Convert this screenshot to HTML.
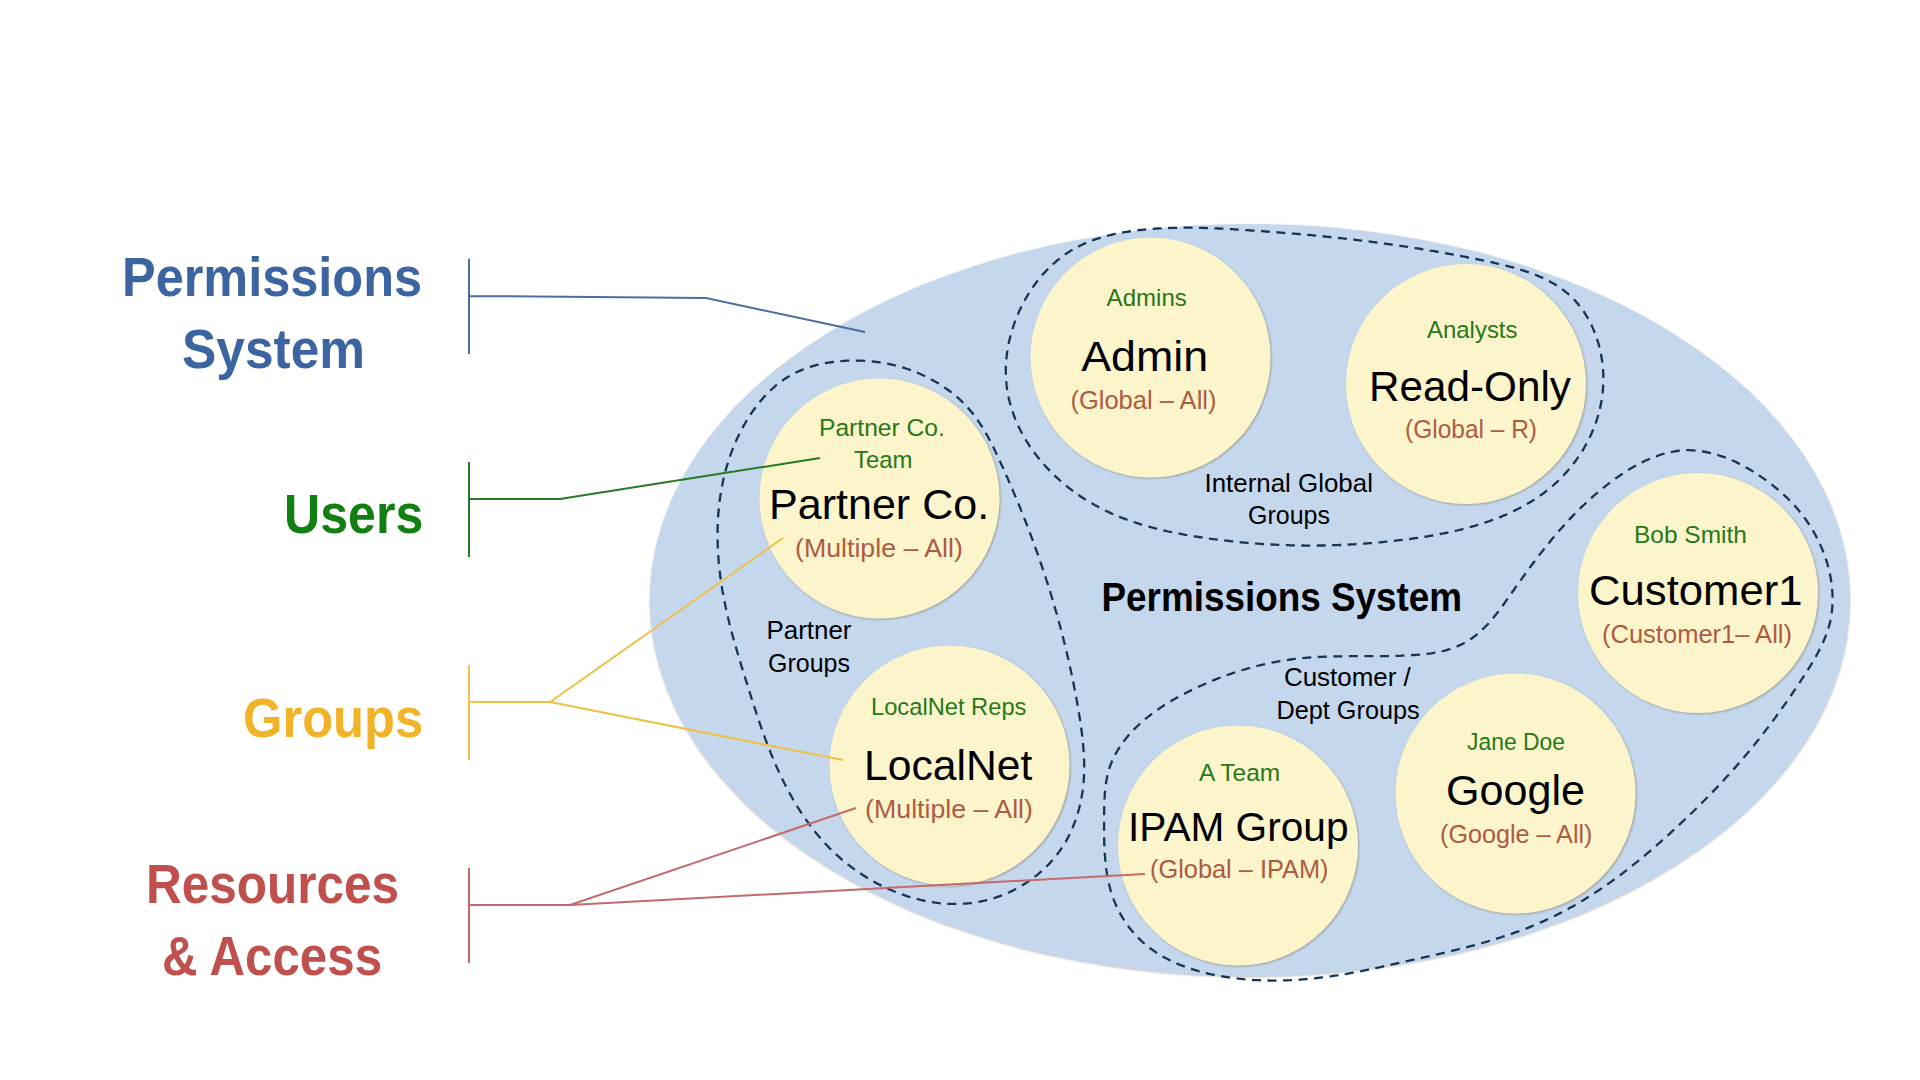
<!DOCTYPE html>
<html><head><meta charset="utf-8"><title>Permissions System</title>
<style>html,body{margin:0;padding:0;background:#fff;width:1920px;height:1080px;overflow:hidden}svg{display:block}text{font-family:"Liberation Sans",sans-serif}</style>
</head><body>
<svg width="1920" height="1080" viewBox="0 0 1920 1080">
<defs>
<filter id="sh" x="-10%" y="-10%" width="120%" height="120%"><feGaussianBlur in="SourceAlpha" stdDeviation="0.9"/><feOffset dx="0.6" dy="1.2" result="o"/><feFlood flood-color="#7a7050" flood-opacity="0.55"/><feComposite in2="o" operator="in"/><feMerge><feMergeNode/><feMergeNode in="SourceGraphic"/></feMerge></filter>
<filter id="esh" x="-5%" y="-5%" width="110%" height="110%"><feGaussianBlur in="SourceAlpha" stdDeviation="1"/><feOffset dx="0.3" dy="1.2" result="o"/><feFlood flood-color="#707880" flood-opacity="0.5"/><feComposite in2="o" operator="in"/><feMerge><feMergeNode/><feMergeNode in="SourceGraphic"/></feMerge></filter>
</defs>
<rect width="1920" height="1080" fill="#ffffff"/>
<ellipse cx="1250" cy="600" rx="600" ry="376" fill="#c4d7ec" filter="url(#esh)"/>
<circle cx="1150.5" cy="357.5" r="120" fill="#fcf5cb" filter="url(#sh)"/>
<circle cx="1466" cy="384" r="120" fill="#fcf5cb" filter="url(#sh)"/>
<circle cx="879.5" cy="498.5" r="120" fill="#fcf5cb" filter="url(#sh)"/>
<circle cx="949.5" cy="765.5" r="120" fill="#fcf5cb" filter="url(#sh)"/>
<circle cx="1698" cy="593" r="120" fill="#fcf5cb" filter="url(#sh)"/>
<circle cx="1515.5" cy="793.5" r="120" fill="#fcf5cb" filter="url(#sh)"/>
<circle cx="1238" cy="845.5" r="120" fill="#fcf5cb" filter="url(#sh)"/>
<g fill="none" stroke="#163554" stroke-width="2.3">
<path d="M1245.6,230.1 L1247.5,230.2 L1249.4,230.3 L1251.3,230.5 L1253.2,230.6 L1255.1,230.7 L1257.0,230.8 L1258.9,231.0 L1260.7,231.1 L1262.6,231.2 L1264.5,231.4 L1266.4,231.5 L1268.3,231.6 L1270.2,231.8 L1272.1,231.9 L1273.9,232.1 L1275.8,232.2 L1277.7,232.4 L1279.6,232.5 L1281.4,232.7 L1283.3,232.8 L1285.2,233.0 L1287.1,233.1 L1288.9,233.3 L1290.8,233.4 L1292.7,233.6 L1294.5,233.7 L1296.4,233.9 L1298.3,234.0 L1300.1,234.2 L1302.0,234.4 L1303.9,234.5 L1305.7,234.7 L1307.6,234.9 L1309.4,235.0 L1311.3,235.2 L1313.2,235.4 L1315.0,235.6 L1316.9,235.7 L1318.7,235.9 L1320.6,236.1 L1322.4,236.3 L1324.3,236.5 L1326.2,236.7 L1328.0,236.9 L1329.9,237.0 L1331.7,237.2 L1333.6,237.4 L1335.4,237.6 L1337.3,237.8 L1339.1,238.0 L1341.0,238.2 L1342.8,238.4 L1344.7,238.6 L1346.5,238.8 L1348.4,239.1 L1350.2,239.3 L1352.1,239.5 L1354.0,239.7 L1355.8,239.9 L1357.7,240.1 L1359.5,240.4 L1361.4,240.6 L1363.2,240.8 L1365.1,241.0 L1366.9,241.3 L1368.8,241.5 L1370.6,241.7 L1372.5,242.0 L1374.3,242.2 L1376.2,242.5 L1378.1,242.7 L1379.9,243.0 L1381.8,243.2 L1383.6,243.5 L1385.5,243.7 L1387.3,244.0 L1389.2,244.2 L1391.1,244.5 L1392.9,244.7 L1394.8,245.0 L1396.6,245.3 L1398.5,245.6 L1400.4,245.8 L1402.2,246.1 L1404.1,246.4 L1406.0,246.7 L1407.8,246.9 L1409.7,247.2 L1411.6,247.5 L1413.4,247.8 L1415.3,248.1 L1417.2,248.4 L1419.1,248.7 L1420.9,249.0 L1422.8,249.3 L1424.7,249.6 L1426.6,249.9 L1428.5,250.2 L1430.3,250.6 L1432.2,250.9 L1434.1,251.2 L1436.0,251.5 L1437.9,251.8 L1439.8,252.2 L1441.7,252.5 L1443.5,252.8 L1445.4,253.2 L1447.3,253.5 L1449.2,253.9 L1451.1,254.2 L1453.0,254.6 L1454.9,254.9 L1456.8,255.3 L1458.7,255.6 L1460.6,256.0 L1462.6,256.4 L1464.5,256.7 L1466.4,257.1 L1468.3,257.5 L1470.2,257.8 L1472.1,258.2 L1474.1,258.6 L1476.0,259.0 L1477.9,259.4 L1479.8,259.8 L1481.8,260.2 L1483.7,260.6 L1485.6,261.0 L1487.6,261.4 L1489.5,261.8 L1491.4,262.2 L1493.4,262.6 L1495.3,263.1 L1497.2,263.5 L1499.2,264.0 L1501.1,264.4 L1503.0,264.9 L1504.9,265.3 L1506.8,265.8 L1508.7,266.3 L1510.6,266.8 L1512.5,267.3 L1514.4,267.8 L1516.3,268.4 L1518.2,268.9 L1520.0,269.5 L1521.9,270.1 L1523.8,270.7 L1525.6,271.3 L1527.4,271.9 L1529.2,272.5 L1531.0,273.2 L1532.8,273.8 L1534.6,274.5 L1536.4,275.2 L1538.1,275.9 L1539.8,276.7 L1541.6,277.4 L1543.3,278.2 L1545.0,279.0 L1546.6,279.8 L1548.3,280.7 L1549.9,281.5 L1551.5,282.4 L1553.1,283.3 L1554.7,284.2 L1556.3,285.2 L1557.8,286.2 L1559.3,287.2 L1560.8,288.2 L1562.3,289.3 L1563.7,290.3 L1565.1,291.4 L1566.5,292.6 L1567.9,293.7 L1569.3,294.9 L1570.6,296.1 L1571.9,297.4 L1573.2,298.7 L1574.4,300.0 L1575.6,301.3 L1576.8,302.6 L1578.0,304.0 L1579.1,305.4 L1580.3,306.8 L1581.3,308.3 L1582.4,309.7 L1583.5,311.2 L1584.5,312.7 L1585.5,314.3 L1586.4,315.8 L1587.4,317.4 L1588.3,319.0 L1589.2,320.6 L1590.0,322.2 L1590.8,323.9 L1591.7,325.5 L1592.4,327.2 L1593.2,328.9 L1593.9,330.6 L1594.6,332.3 L1595.3,334.1 L1595.9,335.8 L1596.6,337.6 L1597.1,339.4 L1597.7,341.2 L1598.3,343.0 L1598.8,344.8 L1599.3,346.6 L1599.7,348.4 L1600.1,350.3 L1600.5,352.1 L1600.9,354.0 L1601.3,355.8 L1601.6,357.7 L1601.9,359.6 L1602.2,361.5 L1602.4,363.4 L1602.6,365.3 L1602.8,367.2 L1603.0,369.1 L1603.1,371.0 L1603.2,372.9 L1603.3,374.8 L1603.3,376.7 L1603.3,378.7 L1603.3,380.6 L1603.3,382.5 L1603.2,384.4 L1603.1,386.3 L1603.0,388.2 L1602.9,390.2 L1602.7,392.1 L1602.5,394.0 L1602.2,395.9 L1602.0,397.8 L1601.7,399.7 L1601.4,401.6 L1601.0,403.5 L1600.7,405.4 L1600.2,407.2 L1599.8,409.1 L1599.4,411.0 L1598.9,412.8 L1598.4,414.7 L1597.8,416.5 L1597.3,418.3 L1596.7,420.2 L1596.1,422.0 L1595.4,423.8 L1594.8,425.6 L1594.1,427.4 L1593.4,429.1 L1592.6,430.9 L1591.9,432.7 L1591.1,434.4 L1590.3,436.2 L1589.5,437.9 L1588.6,439.6 L1587.7,441.3 L1586.9,443.0 L1585.9,444.7 L1585.0,446.3 L1584.1,448.0 L1583.1,449.6 L1582.1,451.3 L1581.1,452.9 L1580.0,454.5 L1579.0,456.1 L1577.9,457.6 L1576.8,459.2 L1575.7,460.7 L1574.6,462.2 L1573.4,463.8 L1572.3,465.2 L1571.1,466.7 L1569.9,468.2 L1568.7,469.6 L1567.5,471.1 L1566.2,472.5 L1565.0,473.8 L1563.7,475.2 L1562.4,476.6 L1561.1,477.9 L1559.8,479.2 L1558.4,480.5 L1557.1,481.8 L1555.7,483.1 L1554.3,484.3 L1553.0,485.5 L1551.6,486.7 L1550.1,487.9 L1548.7,489.1 L1547.3,490.3 L1545.8,491.4 L1544.4,492.5 L1542.9,493.6 L1541.4,494.7 L1539.9,495.8 L1538.4,496.8 L1536.8,497.9 L1535.3,498.9 L1533.8,499.9 L1532.2,500.9 L1530.6,501.9 L1529.0,502.8 L1527.4,503.8 L1525.8,504.7 L1524.2,505.6 L1522.6,506.5 L1521.0,507.4 L1519.3,508.2 L1517.7,509.1 L1516.0,509.9 L1514.3,510.8 L1512.7,511.6 L1511.0,512.4 L1509.3,513.1 L1507.6,513.9 L1505.8,514.7 L1504.1,515.4 L1502.4,516.1 L1500.6,516.9 L1498.9,517.6 L1497.1,518.2 L1495.4,518.9 L1493.6,519.6 L1491.8,520.2 L1490.1,520.9 L1488.3,521.5 L1486.5,522.1 L1484.7,522.7 L1482.8,523.3 L1481.0,523.9 L1479.2,524.5 L1477.4,525.0 L1475.5,525.6 L1473.7,526.1 L1471.9,526.6 L1470.0,527.2 L1468.2,527.7 L1466.3,528.2 L1464.4,528.6 L1462.6,529.1 L1460.7,529.6 L1458.8,530.0 L1456.9,530.5 L1455.1,530.9 L1453.2,531.4 L1451.3,531.8 L1449.4,532.2 L1447.5,532.6 L1445.6,533.0 L1443.7,533.4 L1441.8,533.7 L1439.9,534.1 L1438.0,534.5 L1436.1,534.8 L1434.2,535.2 L1432.2,535.5 L1430.3,535.8 L1428.4,536.2 L1426.5,536.5 L1424.6,536.8 L1422.7,537.1 L1420.7,537.4 L1418.8,537.7 L1416.9,537.9 L1415.0,538.2 L1413.1,538.5 L1411.1,538.8 L1409.2,539.0 L1407.3,539.3 L1405.4,539.5 L1403.5,539.7 L1401.5,540.0 L1399.6,540.2 L1397.7,540.4 L1395.8,540.7 L1393.9,540.9 L1392.0,541.1 L1390.1,541.3 L1388.2,541.5 L1386.3,541.7 L1384.3,541.9 L1382.4,542.1 L1380.5,542.3 L1378.6,542.4 L1376.7,542.6 L1374.8,542.8 L1372.9,542.9 L1371.1,543.1 L1369.2,543.2 L1367.3,543.4 L1365.4,543.5 L1363.5,543.7 L1361.6,543.8 L1359.7,543.9 L1357.8,544.1 L1355.9,544.2 L1354.0,544.3 L1352.1,544.4 L1350.3,544.5 L1348.4,544.6 L1346.5,544.7 L1344.6,544.8 L1342.7,544.9 L1340.8,545.0 L1339.0,545.0 L1337.1,545.1 L1335.2,545.2 L1333.3,545.2 L1331.5,545.3 L1329.6,545.3 L1327.7,545.4 L1325.8,545.4 L1323.9,545.5 L1322.1,545.5 L1320.2,545.5 L1318.3,545.5 L1316.4,545.6 L1314.6,545.6 L1312.7,545.6 L1310.8,545.6 L1309.0,545.6 L1307.1,545.6 L1305.2,545.6 L1303.3,545.5 L1301.5,545.5 L1299.6,545.5 L1297.7,545.5 L1295.9,545.4 L1294.0,545.4 L1292.1,545.3 L1290.3,545.3 L1288.4,545.2 L1286.5,545.2 L1284.7,545.1 L1282.8,545.0 L1280.9,545.0 L1279.1,544.9 L1277.2,544.8 L1275.3,544.7 L1273.5,544.6 L1271.6,544.5 L1269.7,544.4 L1267.8,544.3 L1266.0,544.2 L1264.1,544.1 L1262.2,544.0 L1260.4,543.8 L1258.5,543.7 L1256.6,543.6 L1254.8,543.4 L1252.9,543.3 L1251.0,543.1 L1249.2,543.0 L1247.3,542.8 L1245.4,542.6 L1243.5,542.5 L1241.7,542.3 L1239.8,542.1 L1237.9,541.9 L1236.1,541.7 L1234.2,541.5 L1232.3,541.3 L1230.4,541.1 L1228.6,540.9 L1226.7,540.7 L1224.8,540.5 L1222.9,540.3 L1221.0,540.1 L1219.2,539.8 L1217.3,539.6 L1215.4,539.3 L1213.5,539.1 L1211.6,538.8 L1209.8,538.6 L1207.9,538.3 L1206.0,538.1 L1204.1,537.8 L1202.2,537.5 L1200.3,537.2 L1198.5,537.0 L1196.6,536.7 L1194.7,536.4 L1192.8,536.1 L1190.9,535.7 L1189.0,535.4 L1187.2,535.1 L1185.3,534.8 L1183.4,534.4 L1181.5,534.1 L1179.6,533.7 L1177.7,533.4 L1175.9,533.0 L1174.0,532.6 L1172.1,532.2 L1170.2,531.9 L1168.4,531.5 L1166.5,531.0 L1164.6,530.6 L1162.8,530.2 L1160.9,529.8 L1159.1,529.3 L1157.2,528.9 L1155.4,528.4 L1153.5,527.9 L1151.7,527.4 L1149.8,526.9 L1148.0,526.4 L1146.1,525.9 L1144.3,525.4 L1142.5,524.8 L1140.6,524.3 L1138.8,523.7 L1137.0,523.1 L1135.2,522.5 L1133.4,521.9 L1131.6,521.3 L1129.8,520.7 L1128.0,520.1 L1126.2,519.4 L1124.4,518.7 L1122.6,518.1 L1120.9,517.4 L1119.1,516.7 L1117.3,515.9 L1115.6,515.2 L1113.8,514.5 L1112.1,513.7 L1110.4,512.9 L1108.6,512.1 L1106.9,511.3 L1105.2,510.5 L1103.5,509.6 L1101.8,508.8 L1100.1,507.9 L1098.4,507.0 L1096.7,506.1 L1095.0,505.2 L1093.4,504.3 L1091.7,503.3 L1090.1,502.4 L1088.4,501.4 L1086.8,500.4 L1085.2,499.4 L1083.5,498.3 L1081.9,497.3 L1080.3,496.2 L1078.8,495.1 L1077.2,494.0 L1075.6,492.9 L1074.0,491.8 L1072.5,490.6 L1071.0,489.5 L1069.4,488.3 L1067.9,487.1 L1066.4,485.9 L1064.9,484.7 L1063.5,483.5 L1062.0,482.2 L1060.6,481.0 L1059.1,479.7 L1057.7,478.4 L1056.3,477.1 L1054.9,475.8 L1053.5,474.5 L1052.1,473.1 L1050.8,471.8 L1049.4,470.4 L1048.1,469.0 L1046.8,467.6 L1045.5,466.2 L1044.2,464.8 L1043.0,463.4 L1041.7,461.9 L1040.5,460.5 L1039.3,459.0 L1038.1,457.5 L1036.9,456.0 L1035.8,454.5 L1034.6,453.0 L1033.5,451.5 L1032.4,450.0 L1031.3,448.4 L1030.2,446.9 L1029.2,445.3 L1028.2,443.7 L1027.2,442.1 L1026.2,440.6 L1025.2,438.9 L1024.3,437.3 L1023.3,435.7 L1022.4,434.1 L1021.5,432.4 L1020.7,430.8 L1019.8,429.1 L1019.0,427.4 L1018.2,425.7 L1017.4,424.1 L1016.7,422.4 L1016.0,420.7 L1015.2,418.9 L1014.6,417.2 L1013.9,415.5 L1013.3,413.7 L1012.7,412.0 L1012.1,410.2 L1011.5,408.5 L1011.0,406.7 L1010.5,404.9 L1010.0,403.1 L1009.5,401.3 L1009.1,399.5 L1008.7,397.7 L1008.3,395.9 L1007.9,394.1 L1007.6,392.3 L1007.3,390.5 L1007.0,388.6 L1006.8,386.8 L1006.5,384.9 L1006.4,383.1 L1006.2,381.2 L1006.1,379.4 L1006.0,377.5 L1005.9,375.6 L1005.8,373.7 L1005.8,371.9 L1005.8,370.0 L1005.8,368.1 L1005.9,366.2 L1006.0,364.3 L1006.1,362.4 L1006.3,360.5 L1006.4,358.6 L1006.6,356.7 L1006.8,354.8 L1007.1,353.0 L1007.4,351.1 L1007.7,349.2 L1008.0,347.3 L1008.3,345.4 L1008.7,343.5 L1009.1,341.6 L1009.5,339.8 L1010.0,337.9 L1010.4,336.0 L1010.9,334.2 L1011.5,332.3 L1012.0,330.4 L1012.6,328.6 L1013.2,326.8 L1013.8,324.9 L1014.4,323.1 L1015.1,321.3 L1015.8,319.5 L1016.5,317.7 L1017.2,315.9 L1018.0,314.1 L1018.7,312.3 L1019.5,310.5 L1020.4,308.8 L1021.2,307.0 L1022.1,305.3 L1023.0,303.6 L1023.9,301.9 L1024.8,300.2 L1025.7,298.5 L1026.7,296.8 L1027.7,295.2 L1028.7,293.5 L1029.7,291.9 L1030.8,290.3 L1031.9,288.7 L1032.9,287.1 L1034.1,285.5 L1035.2,284.0 L1036.3,282.4 L1037.5,280.9 L1038.7,279.4 L1039.9,277.9 L1041.1,276.5 L1042.3,275.0 L1043.6,273.6 L1044.9,272.2 L1046.2,270.8 L1047.5,269.5 L1048.8,268.1 L1050.2,266.8 L1051.5,265.5 L1052.9,264.2 L1054.3,263.0 L1055.7,261.8 L1057.1,260.5 L1058.6,259.4 L1060.1,258.2 L1061.5,257.1 L1063.0,256.0 L1064.5,254.9 L1066.1,253.8 L1067.6,252.8 L1069.2,251.8 L1070.7,250.8 L1072.3,249.9 L1073.9,248.9 L1075.5,248.0 L1077.2,247.2 L1078.8,246.3 L1080.5,245.5 L1082.1,244.7 L1083.8,243.9 L1085.5,243.2 L1087.2,242.5 L1088.9,241.8 L1090.6,241.1 L1092.4,240.5 L1094.1,239.8 L1095.9,239.2 L1097.6,238.6 L1099.4,238.1 L1101.2,237.5 L1103.0,237.0 L1104.8,236.5 L1106.6,236.0 L1108.4,235.5 L1110.2,235.1 L1112.1,234.6 L1113.9,234.2 L1115.8,233.8 L1117.6,233.4 L1119.5,233.1 L1121.3,232.7 L1123.2,232.4 L1125.1,232.1 L1126.9,231.8 L1128.8,231.5 L1130.7,231.2 L1132.6,230.9 L1134.5,230.7 L1136.4,230.4 L1138.3,230.2 L1140.2,230.0 L1142.1,229.8 L1144.0,229.6 L1145.9,229.4 L1147.8,229.2 L1149.7,229.1 L1151.6,228.9 L1153.5,228.8 L1155.4,228.6 L1157.3,228.5 L1159.2,228.4 L1161.1,228.3 L1163.1,228.2 L1165.0,228.1 L1166.9,228.0 L1168.8,228.0 L1170.7,227.9 L1172.7,227.8 L1174.6,227.8 L1176.5,227.8 L1178.4,227.7 L1180.3,227.7 L1182.3,227.7 L1184.2,227.7 L1186.1,227.7 L1188.0,227.7 L1190.0,227.7 L1191.9,227.7 L1193.8,227.7 L1195.7,227.8 L1197.7,227.8 L1199.6,227.8 L1201.5,227.9 L1203.4,227.9 L1205.4,228.0 L1207.3,228.1 L1209.2,228.1 L1211.1,228.2 L1213.1,228.3 L1215.0,228.4 L1216.9,228.4 L1218.8,228.5 L1220.7,228.6 L1222.7,228.7 L1224.6,228.8 L1226.5,228.9 L1228.4,229.0 L1230.3,229.1 L1232.2,229.2 L1234.1,229.4 L1236.1,229.5 L1238.0,229.6 L1239.9,229.7 L1241.8,229.8 L1243.7,230.0 L1245.6,230.1Z" stroke-dasharray="8.970 6.479"/>
<path d="M856.2,360.6 L858.0,360.6 L859.9,360.7 L861.7,360.7 L863.5,360.8 L865.3,360.9 L867.1,361.0 L868.9,361.2 L870.7,361.3 L872.5,361.5 L874.3,361.7 L876.1,361.9 L877.9,362.1 L879.7,362.4 L881.5,362.7 L883.2,363.0 L885.0,363.3 L886.8,363.6 L888.5,363.9 L890.3,364.3 L892.0,364.7 L893.8,365.1 L895.5,365.5 L897.2,366.0 L899.0,366.4 L900.7,366.9 L902.4,367.4 L904.1,367.9 L905.8,368.5 L907.5,369.0 L909.2,369.6 L910.9,370.2 L912.6,370.8 L914.3,371.5 L915.9,372.2 L917.6,372.8 L919.3,373.5 L920.9,374.3 L922.5,375.0 L924.2,375.8 L925.8,376.5 L927.4,377.4 L929.0,378.2 L930.6,379.0 L932.2,379.9 L933.8,380.8 L935.4,381.7 L937.0,382.6 L938.6,383.6 L940.1,384.5 L941.7,385.5 L943.2,386.5 L944.7,387.6 L946.2,388.6 L947.7,389.7 L949.2,390.8 L950.7,391.9 L952.1,393.0 L953.6,394.1 L955.0,395.3 L956.4,396.5 L957.8,397.7 L959.2,398.9 L960.5,400.2 L961.8,401.4 L963.1,402.7 L964.4,404.0 L965.7,405.3 L966.9,406.6 L968.1,407.9 L969.3,409.3 L970.4,410.7 L971.6,412.1 L972.7,413.5 L973.8,414.9 L974.9,416.3 L976.0,417.7 L977.0,419.2 L978.0,420.7 L979.0,422.1 L980.0,423.6 L981.0,425.1 L982.0,426.7 L982.9,428.2 L983.8,429.7 L984.8,431.3 L985.7,432.8 L986.5,434.4 L987.4,435.9 L988.3,437.5 L989.1,439.1 L990.0,440.7 L990.8,442.3 L991.7,443.9 L992.5,445.5 L993.3,447.1 L994.1,448.8 L994.9,450.4 L995.7,452.0 L996.4,453.7 L997.2,455.3 L998.0,456.9 L998.7,458.6 L999.5,460.2 L1000.3,461.9 L1001.0,463.5 L1001.8,465.2 L1002.5,466.8 L1003.3,468.5 L1004.0,470.1 L1004.7,471.8 L1005.5,473.4 L1006.2,475.1 L1006.9,476.7 L1007.7,478.4 L1008.4,480.1 L1009.1,481.7 L1009.8,483.4 L1010.6,485.0 L1011.3,486.7 L1012.0,488.4 L1012.7,490.0 L1013.4,491.7 L1014.1,493.4 L1014.8,495.0 L1015.5,496.7 L1016.2,498.4 L1016.9,500.1 L1017.6,501.7 L1018.3,503.4 L1019.0,505.1 L1019.7,506.8 L1020.4,508.4 L1021.0,510.1 L1021.7,511.8 L1022.4,513.5 L1023.1,515.1 L1023.7,516.8 L1024.4,518.5 L1025.0,520.2 L1025.7,521.9 L1026.4,523.6 L1027.0,525.3 L1027.7,526.9 L1028.3,528.6 L1029.0,530.3 L1029.6,532.0 L1030.2,533.7 L1030.9,535.4 L1031.5,537.1 L1032.1,538.8 L1032.8,540.5 L1033.4,542.2 L1034.0,543.9 L1034.6,545.6 L1035.2,547.3 L1035.8,549.0 L1036.5,550.7 L1037.1,552.4 L1037.7,554.1 L1038.3,555.8 L1038.9,557.5 L1039.5,559.2 L1040.0,560.9 L1040.6,562.6 L1041.2,564.3 L1041.8,566.0 L1042.4,567.8 L1043.0,569.5 L1043.5,571.2 L1044.1,572.9 L1044.7,574.6 L1045.2,576.3 L1045.8,578.0 L1046.3,579.8 L1046.9,581.5 L1047.5,583.2 L1048.0,584.9 L1048.5,586.6 L1049.1,588.4 L1049.6,590.1 L1050.2,591.8 L1050.7,593.5 L1051.2,595.3 L1051.7,597.0 L1052.3,598.7 L1052.8,600.5 L1053.3,602.2 L1053.8,603.9 L1054.3,605.7 L1054.8,607.4 L1055.3,609.1 L1055.8,610.9 L1056.3,612.6 L1056.8,614.3 L1057.3,616.1 L1057.8,617.8 L1058.3,619.6 L1058.8,621.3 L1059.2,623.0 L1059.7,624.8 L1060.2,626.5 L1060.6,628.3 L1061.1,630.0 L1061.6,631.8 L1062.0,633.5 L1062.5,635.3 L1062.9,637.0 L1063.4,638.8 L1063.8,640.5 L1064.2,642.3 L1064.7,644.0 L1065.1,645.8 L1065.5,647.5 L1066.0,649.3 L1066.4,651.0 L1066.8,652.8 L1067.2,654.6 L1067.6,656.3 L1068.0,658.1 L1068.5,659.8 L1068.9,661.6 L1069.2,663.4 L1069.6,665.1 L1070.0,666.9 L1070.4,668.7 L1070.8,670.4 L1071.2,672.2 L1071.6,674.0 L1071.9,675.8 L1072.3,677.5 L1072.7,679.3 L1073.0,681.1 L1073.4,682.8 L1073.7,684.6 L1074.1,686.4 L1074.4,688.2 L1074.8,690.0 L1075.1,691.7 L1075.5,693.5 L1075.8,695.3 L1076.1,697.1 L1076.5,698.9 L1076.8,700.6 L1077.1,702.4 L1077.4,704.2 L1077.7,706.0 L1078.0,707.8 L1078.3,709.6 L1078.6,711.4 L1078.9,713.2 L1079.2,715.0 L1079.5,716.7 L1079.8,718.5 L1080.1,720.3 L1080.4,722.1 L1080.6,723.9 L1080.9,725.7 L1081.1,727.5 L1081.4,729.3 L1081.6,731.1 L1081.8,732.9 L1082.1,734.7 L1082.3,736.5 L1082.5,738.3 L1082.7,740.1 L1082.9,741.9 L1083.0,743.7 L1083.2,745.5 L1083.4,747.3 L1083.5,749.1 L1083.6,750.9 L1083.8,752.7 L1083.9,754.5 L1084.0,756.3 L1084.0,758.1 L1084.1,759.9 L1084.1,761.7 L1084.2,763.5 L1084.2,765.3 L1084.2,767.1 L1084.2,768.9 L1084.2,770.7 L1084.1,772.5 L1084.1,774.3 L1084.0,776.1 L1083.9,777.9 L1083.8,779.7 L1083.6,781.5 L1083.5,783.3 L1083.3,785.1 L1083.1,786.9 L1082.9,788.7 L1082.7,790.5 L1082.4,792.3 L1082.1,794.0 L1081.8,795.8 L1081.5,797.6 L1081.2,799.4 L1080.8,801.2 L1080.4,802.9 L1080.0,804.7 L1079.6,806.5 L1079.2,808.2 L1078.7,810.0 L1078.2,811.7 L1077.7,813.5 L1077.2,815.2 L1076.6,817.0 L1076.0,818.7 L1075.4,820.4 L1074.8,822.1 L1074.2,823.8 L1073.5,825.5 L1072.8,827.2 L1072.1,828.8 L1071.4,830.5 L1070.6,832.1 L1069.9,833.8 L1069.1,835.4 L1068.2,837.0 L1067.4,838.6 L1066.5,840.2 L1065.6,841.8 L1064.7,843.3 L1063.8,844.9 L1062.8,846.4 L1061.8,847.9 L1060.8,849.4 L1059.8,850.9 L1058.7,852.4 L1057.6,853.9 L1056.5,855.3 L1055.4,856.7 L1054.2,858.1 L1053.0,859.5 L1051.8,860.9 L1050.6,862.2 L1049.4,863.6 L1048.1,864.9 L1046.8,866.2 L1045.5,867.5 L1044.2,868.7 L1042.9,870.0 L1041.5,871.2 L1040.1,872.4 L1038.7,873.6 L1037.3,874.8 L1035.9,875.9 L1034.4,877.0 L1033.0,878.1 L1031.5,879.2 L1030.0,880.3 L1028.5,881.3 L1027.0,882.4 L1025.4,883.4 L1023.9,884.3 L1022.3,885.3 L1020.7,886.2 L1019.2,887.1 L1017.6,888.0 L1015.9,888.9 L1014.3,889.8 L1012.7,890.6 L1011.0,891.4 L1009.4,892.2 L1007.7,892.9 L1006.1,893.6 L1004.4,894.3 L1002.7,895.0 L1001.0,895.7 L999.3,896.3 L997.6,896.9 L995.9,897.5 L994.1,898.1 L992.4,898.6 L990.7,899.1 L988.9,899.6 L987.2,900.0 L985.5,900.4 L983.7,900.8 L981.9,901.2 L980.2,901.6 L978.4,901.9 L976.7,902.2 L974.9,902.5 L973.1,902.7 L971.4,903.0 L969.6,903.2 L967.8,903.3 L966.0,903.5 L964.3,903.6 L962.5,903.7 L960.7,903.8 L958.9,903.9 L957.1,903.9 L955.3,903.9 L953.5,903.9 L951.8,903.9 L950.0,903.9 L948.2,903.8 L946.4,903.7 L944.6,903.6 L942.8,903.4 L941.0,903.3 L939.2,903.1 L937.5,902.9 L935.7,902.6 L933.9,902.4 L932.1,902.1 L930.3,901.8 L928.6,901.5 L926.8,901.2 L925.0,900.8 L923.2,900.5 L921.5,900.1 L919.7,899.7 L917.9,899.2 L916.2,898.8 L914.4,898.3 L912.7,897.8 L910.9,897.3 L909.2,896.8 L907.5,896.3 L905.7,895.7 L904.0,895.1 L902.3,894.5 L900.5,893.9 L898.8,893.3 L897.1,892.6 L895.4,891.9 L893.7,891.2 L892.0,890.5 L890.3,889.8 L888.7,889.1 L887.0,888.3 L885.3,887.5 L883.7,886.7 L882.0,885.9 L880.4,885.1 L878.7,884.3 L877.1,883.4 L875.5,882.6 L873.9,881.7 L872.3,880.8 L870.7,879.9 L869.1,878.9 L867.5,878.0 L865.9,877.0 L864.4,876.0 L862.8,875.0 L861.3,874.0 L859.8,873.0 L858.2,872.0 L856.7,870.9 L855.2,869.9 L853.7,868.8 L852.3,867.7 L850.8,866.6 L849.3,865.5 L847.9,864.4 L846.4,863.3 L845.0,862.1 L843.6,860.9 L842.2,859.8 L840.8,858.6 L839.5,857.4 L838.1,856.2 L836.7,855.0 L835.4,853.7 L834.1,852.5 L832.8,851.2 L831.5,850.0 L830.2,848.7 L828.9,847.4 L827.7,846.1 L826.4,844.8 L825.2,843.5 L824.0,842.1 L822.7,840.8 L821.5,839.4 L820.4,838.1 L819.2,836.7 L818.0,835.3 L816.9,834.0 L815.7,832.6 L814.6,831.2 L813.5,829.7 L812.4,828.3 L811.3,826.9 L810.2,825.4 L809.1,824.0 L808.1,822.5 L807.0,821.1 L806.0,819.6 L804.9,818.1 L803.9,816.6 L802.9,815.2 L801.9,813.7 L800.9,812.1 L799.9,810.6 L799.0,809.1 L798.0,807.6 L797.0,806.0 L796.1,804.5 L795.2,803.0 L794.3,801.4 L793.3,799.8 L792.4,798.3 L791.6,796.7 L790.7,795.1 L789.8,793.5 L788.9,792.0 L788.1,790.4 L787.2,788.8 L786.4,787.2 L785.6,785.5 L784.7,783.9 L783.9,782.3 L783.1,780.7 L782.3,779.1 L781.5,777.4 L780.8,775.8 L780.0,774.2 L779.2,772.5 L778.5,770.9 L777.7,769.2 L777.0,767.6 L776.2,765.9 L775.5,764.3 L774.8,762.6 L774.1,761.0 L773.4,759.3 L772.7,757.6 L772.0,756.0 L771.3,754.3 L770.6,752.6 L770.0,750.9 L769.3,749.2 L768.6,747.6 L768.0,745.9 L767.3,744.2 L766.7,742.5 L766.1,740.8 L765.4,739.1 L764.8,737.4 L764.2,735.7 L763.6,734.0 L762.9,732.3 L762.3,730.6 L761.7,728.9 L761.1,727.2 L760.5,725.5 L759.9,723.8 L759.4,722.1 L758.8,720.3 L758.2,718.6 L757.6,716.9 L757.0,715.2 L756.5,713.5 L755.9,711.7 L755.3,710.0 L754.8,708.3 L754.2,706.6 L753.7,704.9 L753.1,703.1 L752.5,701.4 L752.0,699.7 L751.4,698.0 L750.9,696.2 L750.3,694.5 L749.8,692.8 L749.3,691.0 L748.7,689.3 L748.2,687.6 L747.6,685.9 L747.1,684.1 L746.6,682.4 L746.0,680.7 L745.5,679.0 L744.9,677.2 L744.4,675.5 L743.9,673.8 L743.3,672.0 L742.8,670.3 L742.3,668.6 L741.7,666.9 L741.2,665.1 L740.7,663.4 L740.2,661.7 L739.6,660.0 L739.1,658.2 L738.6,656.5 L738.1,654.8 L737.6,653.0 L737.1,651.3 L736.6,649.6 L736.1,647.8 L735.6,646.1 L735.1,644.4 L734.6,642.6 L734.1,640.9 L733.6,639.2 L733.1,637.4 L732.6,635.7 L732.2,634.0 L731.7,632.2 L731.2,630.5 L730.8,628.7 L730.3,627.0 L729.9,625.2 L729.4,623.5 L729.0,621.7 L728.6,620.0 L728.2,618.2 L727.7,616.5 L727.3,614.7 L726.9,613.0 L726.5,611.2 L726.1,609.4 L725.8,607.7 L725.4,605.9 L725.0,604.1 L724.7,602.4 L724.3,600.6 L724.0,598.8 L723.6,597.0 L723.3,595.3 L723.0,593.5 L722.6,591.7 L722.3,589.9 L722.0,588.1 L721.8,586.3 L721.5,584.5 L721.2,582.7 L720.9,580.9 L720.7,579.1 L720.4,577.3 L720.2,575.5 L720.0,573.7 L719.8,571.9 L719.6,570.1 L719.4,568.3 L719.2,566.5 L719.0,564.7 L718.8,562.9 L718.7,561.1 L718.5,559.2 L718.4,557.4 L718.3,555.6 L718.1,553.8 L718.0,552.0 L717.9,550.2 L717.8,548.4 L717.8,546.5 L717.7,544.7 L717.7,542.9 L717.6,541.1 L717.6,539.3 L717.6,537.5 L717.5,535.7 L717.5,533.8 L717.6,532.0 L717.6,530.2 L717.6,528.4 L717.7,526.6 L717.7,524.8 L717.8,523.0 L717.9,521.2 L718.0,519.4 L718.1,517.6 L718.2,515.8 L718.3,514.0 L718.5,512.2 L718.6,510.4 L718.8,508.6 L719.0,506.8 L719.2,505.0 L719.4,503.2 L719.6,501.4 L719.8,499.6 L720.1,497.8 L720.3,496.0 L720.6,494.3 L720.9,492.5 L721.2,490.7 L721.5,488.9 L721.8,487.2 L722.2,485.4 L722.5,483.7 L722.9,481.9 L723.3,480.1 L723.6,478.4 L724.1,476.6 L724.5,474.9 L724.9,473.2 L725.4,471.4 L725.8,469.7 L726.3,468.0 L726.8,466.2 L727.3,464.5 L727.9,462.8 L728.4,461.1 L729.0,459.4 L729.5,457.7 L730.1,456.0 L730.7,454.3 L731.3,452.6 L732.0,450.9 L732.6,449.2 L733.3,447.5 L734.0,445.9 L734.7,444.2 L735.4,442.5 L736.1,440.9 L736.8,439.2 L737.6,437.6 L738.4,436.0 L739.2,434.3 L740.0,432.7 L740.8,431.1 L741.7,429.5 L742.5,427.9 L743.4,426.2 L744.3,424.7 L745.2,423.1 L746.1,421.5 L747.1,419.9 L748.0,418.4 L749.0,416.8 L750.0,415.3 L751.0,413.7 L752.1,412.2 L753.1,410.7 L754.2,409.2 L755.3,407.7 L756.4,406.3 L757.5,404.8 L758.6,403.4 L759.8,402.0 L760.9,400.6 L762.1,399.2 L763.3,397.8 L764.6,396.4 L765.8,395.1 L767.1,393.8 L768.3,392.5 L769.6,391.2 L770.9,390.0 L772.3,388.8 L773.6,387.6 L775.0,386.4 L776.3,385.2 L777.7,384.1 L779.2,383.0 L780.6,381.9 L782.0,380.8 L783.5,379.8 L785.0,378.8 L786.5,377.8 L788.0,376.9 L789.5,376.0 L791.1,375.1 L792.7,374.2 L794.3,373.4 L795.9,372.6 L797.5,371.8 L799.1,371.1 L800.8,370.4 L802.4,369.7 L804.1,369.0 L805.8,368.4 L807.5,367.8 L809.2,367.2 L811.0,366.7 L812.7,366.2 L814.5,365.7 L816.2,365.2 L818.0,364.7 L819.8,364.3 L821.5,363.9 L823.3,363.5 L825.1,363.2 L826.9,362.9 L828.7,362.6 L830.6,362.3 L832.4,362.0 L834.2,361.8 L836.0,361.6 L837.9,361.4 L839.7,361.2 L841.5,361.1 L843.4,360.9 L845.2,360.8 L847.0,360.7 L848.9,360.7 L850.7,360.6 L852.5,360.6 L854.4,360.6 L856.2,360.6Z" stroke-dasharray="9.035 6.526"/>
<path d="M1686.6,450.2 L1689.0,450.2 L1691.4,450.3 L1693.8,450.4 L1696.2,450.6 L1698.6,450.8 L1701.0,451.1 L1703.4,451.5 L1705.8,452.0 L1708.2,452.5 L1710.6,453.0 L1713.0,453.6 L1715.4,454.3 L1717.8,455.0 L1720.2,455.8 L1722.6,456.6 L1724.9,457.4 L1727.3,458.3 L1729.6,459.3 L1732.0,460.3 L1734.3,461.3 L1736.6,462.4 L1738.9,463.6 L1741.2,464.7 L1743.5,465.9 L1745.7,467.2 L1748.0,468.4 L1750.2,469.7 L1752.4,471.1 L1754.6,472.4 L1756.8,473.8 L1758.9,475.2 L1761.0,476.7 L1763.1,478.1 L1765.2,479.6 L1767.3,481.1 L1769.3,482.7 L1771.3,484.2 L1773.3,485.8 L1775.2,487.3 L1777.1,488.9 L1779.0,490.5 L1780.9,492.2 L1782.7,493.8 L1784.5,495.5 L1786.3,497.1 L1788.0,498.8 L1789.7,500.5 L1791.4,502.3 L1793.1,504.0 L1794.7,505.8 L1796.3,507.6 L1797.9,509.4 L1799.4,511.3 L1801.0,513.1 L1802.5,515.1 L1803.9,517.0 L1805.4,519.0 L1806.8,521.0 L1808.1,523.0 L1809.5,525.0 L1810.8,527.1 L1812.1,529.2 L1813.4,531.4 L1814.6,533.5 L1815.8,535.7 L1816.9,537.9 L1818.1,540.1 L1819.1,542.4 L1820.2,544.6 L1821.2,546.9 L1822.2,549.2 L1823.1,551.5 L1824.0,553.8 L1824.9,556.2 L1825.7,558.5 L1826.5,560.9 L1827.2,563.3 L1827.9,565.7 L1828.5,568.1 L1829.1,570.5 L1829.7,572.9 L1830.2,575.4 L1830.7,577.8 L1831.1,580.2 L1831.4,582.7 L1831.8,585.1 L1832.0,587.6 L1832.2,590.0 L1832.4,592.5 L1832.5,594.9 L1832.6,597.4 L1832.6,599.8 L1832.6,602.2 L1832.5,604.7 L1832.3,607.1 L1832.1,609.5 L1831.8,611.9 L1831.5,614.4 L1831.1,616.8 L1830.7,619.1 L1830.2,621.5 L1829.6,623.9 L1829.0,626.2 L1828.3,628.6 L1827.5,630.9 L1826.7,633.2 L1825.9,635.5 L1825.0,637.8 L1824.0,640.1 L1823.1,642.4 L1822.0,644.6 L1820.9,646.9 L1819.8,649.1 L1818.7,651.3 L1817.5,653.5 L1816.3,655.7 L1815.1,657.9 L1813.8,660.1 L1812.6,662.2 L1811.3,664.4 L1810.0,666.5 L1808.6,668.6 L1807.3,670.7 L1806.0,672.9 L1804.6,675.0 L1803.3,677.0 L1801.9,679.1 L1800.6,681.2 L1799.2,683.3 L1797.8,685.3 L1796.5,687.4 L1795.1,689.4 L1793.7,691.4 L1792.3,693.5 L1790.9,695.5 L1789.5,697.5 L1788.1,699.6 L1786.7,701.6 L1785.3,703.6 L1783.9,705.6 L1782.4,707.6 L1781.0,709.6 L1779.6,711.6 L1778.1,713.6 L1776.7,715.6 L1775.3,717.6 L1773.8,719.6 L1772.3,721.6 L1770.9,723.5 L1769.4,725.5 L1767.9,727.5 L1766.4,729.4 L1764.9,731.4 L1763.4,733.3 L1761.9,735.2 L1760.4,737.2 L1758.9,739.1 L1757.4,741.0 L1755.8,743.0 L1754.3,744.9 L1752.8,746.8 L1751.2,748.7 L1749.6,750.6 L1748.1,752.5 L1746.5,754.3 L1744.9,756.2 L1743.3,758.1 L1741.7,760.0 L1740.1,761.8 L1738.5,763.7 L1736.9,765.5 L1735.3,767.4 L1733.6,769.2 L1732.0,771.1 L1730.3,772.9 L1728.7,774.7 L1727.0,776.5 L1725.4,778.3 L1723.7,780.2 L1722.0,782.0 L1720.4,783.8 L1718.7,785.6 L1717.0,787.4 L1715.3,789.1 L1713.6,790.9 L1711.9,792.7 L1710.2,794.5 L1708.4,796.2 L1706.7,798.0 L1705.0,799.8 L1703.2,801.5 L1701.5,803.3 L1699.7,805.0 L1698.0,806.8 L1696.2,808.5 L1694.5,810.2 L1692.7,812.0 L1690.9,813.7 L1689.2,815.4 L1687.4,817.1 L1685.6,818.8 L1683.8,820.5 L1682.0,822.2 L1680.2,823.9 L1678.4,825.6 L1676.6,827.3 L1674.8,829.0 L1672.9,830.7 L1671.1,832.4 L1669.3,834.1 L1667.4,835.7 L1665.6,837.4 L1663.8,839.0 L1661.9,840.7 L1660.1,842.3 L1658.2,844.0 L1656.3,845.6 L1654.5,847.2 L1652.6,848.9 L1650.7,850.5 L1648.8,852.1 L1646.9,853.7 L1645.0,855.3 L1643.1,856.9 L1641.2,858.5 L1639.3,860.0 L1637.4,861.6 L1635.5,863.1 L1633.5,864.7 L1631.6,866.2 L1629.7,867.8 L1627.7,869.3 L1625.8,870.8 L1623.8,872.3 L1621.8,873.8 L1619.9,875.3 L1617.9,876.8 L1615.9,878.2 L1613.9,879.7 L1611.9,881.1 L1609.9,882.6 L1607.9,884.0 L1605.9,885.4 L1603.8,886.8 L1601.8,888.2 L1599.8,889.6 L1597.7,890.9 L1595.7,892.3 L1593.6,893.6 L1591.6,895.0 L1589.5,896.3 L1587.4,897.6 L1585.3,898.9 L1583.2,900.2 L1581.1,901.4 L1579.0,902.7 L1576.9,903.9 L1574.8,905.2 L1572.7,906.4 L1570.5,907.6 L1568.4,908.8 L1566.2,910.0 L1564.1,911.1 L1561.9,912.3 L1559.7,913.4 L1557.5,914.5 L1555.4,915.6 L1553.2,916.7 L1550.9,917.7 L1548.7,918.8 L1546.5,919.8 L1544.3,920.9 L1542.0,921.9 L1539.8,922.8 L1537.5,923.8 L1535.3,924.8 L1533.0,925.7 L1530.7,926.6 L1528.5,927.6 L1526.2,928.5 L1523.9,929.3 L1521.6,930.2 L1519.3,931.1 L1516.9,931.9 L1514.6,932.7 L1512.3,933.6 L1510.0,934.4 L1507.6,935.2 L1505.3,935.9 L1502.9,936.7 L1500.6,937.5 L1498.2,938.2 L1495.8,939.0 L1493.5,939.7 L1491.1,940.4 L1488.7,941.1 L1486.3,941.8 L1484.0,942.5 L1481.6,943.2 L1479.2,943.8 L1476.8,944.5 L1474.4,945.2 L1472.0,945.8 L1469.6,946.4 L1467.2,947.1 L1464.8,947.7 L1462.4,948.3 L1459.9,948.9 L1457.5,949.5 L1455.1,950.1 L1452.7,950.7 L1450.3,951.3 L1447.9,951.9 L1445.4,952.5 L1443.0,953.0 L1440.6,953.6 L1438.2,954.2 L1435.7,954.7 L1433.3,955.3 L1430.9,955.8 L1428.5,956.4 L1426.0,956.9 L1423.6,957.5 L1421.2,958.0 L1418.8,958.5 L1416.4,959.1 L1413.9,959.6 L1411.5,960.1 L1409.1,960.7 L1406.7,961.2 L1404.3,961.7 L1401.9,962.3 L1399.5,962.8 L1397.1,963.3 L1394.7,963.9 L1392.3,964.4 L1389.9,964.9 L1387.5,965.5 L1385.1,966.0 L1382.7,966.5 L1380.3,967.1 L1377.9,967.6 L1375.5,968.1 L1373.1,968.6 L1370.7,969.1 L1368.3,969.6 L1365.9,970.1 L1363.5,970.6 L1361.1,971.1 L1358.7,971.5 L1356.3,972.0 L1353.9,972.5 L1351.5,972.9 L1349.1,973.3 L1346.6,973.8 L1344.2,974.2 L1341.8,974.6 L1339.4,975.0 L1337.0,975.4 L1334.5,975.7 L1332.1,976.1 L1329.7,976.4 L1327.2,976.8 L1324.8,977.1 L1322.4,977.4 L1319.9,977.7 L1317.5,978.0 L1315.0,978.3 L1312.6,978.5 L1310.1,978.8 L1307.7,979.0 L1305.2,979.2 L1302.8,979.4 L1300.3,979.6 L1297.8,979.8 L1295.4,979.9 L1292.9,980.0 L1290.5,980.2 L1288.0,980.3 L1285.5,980.4 L1283.1,980.4 L1280.6,980.5 L1278.1,980.5 L1275.7,980.6 L1273.2,980.6 L1270.7,980.6 L1268.2,980.5 L1265.8,980.5 L1263.3,980.4 L1260.8,980.3 L1258.4,980.2 L1255.9,980.1 L1253.4,980.0 L1250.9,979.8 L1248.5,979.6 L1246.0,979.4 L1243.5,979.2 L1241.0,978.9 L1238.6,978.7 L1236.1,978.4 L1233.6,978.1 L1231.2,977.8 L1228.7,977.4 L1226.2,977.0 L1223.7,976.6 L1221.3,976.2 L1218.8,975.8 L1216.3,975.3 L1213.9,974.8 L1211.4,974.3 L1209.0,973.8 L1206.6,973.2 L1204.1,972.6 L1201.7,972.0 L1199.3,971.3 L1196.9,970.7 L1194.5,969.9 L1192.1,969.2 L1189.8,968.4 L1187.4,967.6 L1185.1,966.8 L1182.7,965.9 L1180.4,965.0 L1178.2,964.1 L1175.9,963.1 L1173.6,962.1 L1171.4,961.0 L1169.2,960.0 L1167.0,958.8 L1164.9,957.7 L1162.7,956.5 L1160.6,955.3 L1158.5,954.0 L1156.5,952.7 L1154.5,951.3 L1152.5,949.9 L1150.5,948.5 L1148.5,947.0 L1146.6,945.5 L1144.7,943.9 L1142.9,942.3 L1141.1,940.6 L1139.3,938.9 L1137.6,937.1 L1135.9,935.3 L1134.2,933.5 L1132.6,931.6 L1131.0,929.7 L1129.4,927.7 L1127.9,925.7 L1126.5,923.7 L1125.1,921.6 L1123.7,919.5 L1122.4,917.4 L1121.1,915.2 L1119.9,913.1 L1118.7,910.9 L1117.6,908.6 L1116.6,906.4 L1115.6,904.2 L1114.6,901.9 L1113.7,899.6 L1112.9,897.3 L1112.1,895.0 L1111.3,892.7 L1110.6,890.4 L1110.0,888.0 L1109.4,885.7 L1108.8,883.3 L1108.3,880.9 L1107.8,878.5 L1107.4,876.1 L1106.9,873.7 L1106.6,871.3 L1106.2,868.9 L1105.9,866.4 L1105.6,864.0 L1105.4,861.5 L1105.2,859.0 L1105.0,856.6 L1104.8,854.1 L1104.6,851.6 L1104.5,849.1 L1104.4,846.6 L1104.3,844.1 L1104.2,841.6 L1104.2,839.1 L1104.1,836.6 L1104.1,834.0 L1104.1,831.5 L1104.1,829.0 L1104.1,826.4 L1104.1,823.9 L1104.1,821.4 L1104.1,818.8 L1104.1,816.3 L1104.1,813.7 L1104.2,811.2 L1104.2,808.7 L1104.3,806.1 L1104.3,803.6 L1104.4,801.1 L1104.5,798.6 L1104.7,796.1 L1104.8,793.6 L1105.0,791.1 L1105.3,788.6 L1105.6,786.2 L1105.9,783.7 L1106.3,781.3 L1106.7,778.9 L1107.2,776.5 L1107.7,774.2 L1108.3,771.8 L1109.0,769.5 L1109.7,767.3 L1110.5,765.0 L1111.4,762.8 L1112.3,760.6 L1113.3,758.4 L1114.4,756.2 L1115.5,754.1 L1116.7,752.0 L1117.9,749.9 L1119.2,747.9 L1120.5,745.9 L1121.9,743.9 L1123.3,741.9 L1124.8,740.0 L1126.3,738.1 L1127.8,736.2 L1129.4,734.3 L1131.1,732.5 L1132.8,730.7 L1134.5,728.9 L1136.2,727.2 L1138.0,725.5 L1139.8,723.8 L1141.7,722.1 L1143.5,720.5 L1145.4,718.9 L1147.4,717.3 L1149.3,715.8 L1151.3,714.3 L1153.3,712.8 L1155.3,711.3 L1157.3,709.9 L1159.4,708.5 L1161.4,707.1 L1163.5,705.7 L1165.6,704.4 L1167.7,703.1 L1169.9,701.8 L1172.0,700.5 L1174.2,699.3 L1176.3,698.1 L1178.5,696.8 L1180.7,695.7 L1182.9,694.5 L1185.1,693.3 L1187.3,692.2 L1189.6,691.1 L1191.8,690.0 L1194.0,688.9 L1196.3,687.8 L1198.5,686.8 L1200.8,685.7 L1203.1,684.7 L1205.3,683.7 L1207.6,682.7 L1209.9,681.7 L1212.2,680.8 L1214.5,679.9 L1216.8,678.9 L1219.1,678.0 L1221.4,677.2 L1223.7,676.3 L1226.1,675.5 L1228.4,674.6 L1230.7,673.8 L1233.1,673.0 L1235.4,672.3 L1237.8,671.5 L1240.1,670.8 L1242.5,670.0 L1244.9,669.3 L1247.2,668.6 L1249.6,668.0 L1252.0,667.3 L1254.4,666.7 L1256.8,666.1 L1259.1,665.5 L1261.5,664.9 L1263.9,664.4 L1266.3,663.8 L1268.8,663.3 L1271.2,662.8 L1273.6,662.3 L1276.0,661.9 L1278.4,661.4 L1280.8,661.0 L1283.3,660.6 L1285.7,660.2 L1288.1,659.9 L1290.6,659.5 L1293.0,659.2 L1295.4,658.9 L1297.9,658.6 L1300.3,658.4 L1302.8,658.1 L1305.2,657.9 L1307.7,657.7 L1310.1,657.5 L1312.6,657.3 L1315.0,657.2 L1317.5,657.0 L1320.0,656.9 L1322.4,656.8 L1324.9,656.7 L1327.3,656.6 L1329.8,656.5 L1332.3,656.5 L1334.8,656.4 L1337.2,656.4 L1339.7,656.3 L1342.2,656.3 L1344.6,656.3 L1347.1,656.2 L1349.6,656.2 L1352.1,656.2 L1354.5,656.2 L1357.0,656.2 L1359.5,656.2 L1362.0,656.2 L1364.5,656.2 L1366.9,656.2 L1369.4,656.2 L1371.9,656.2 L1374.4,656.2 L1376.9,656.2 L1379.3,656.2 L1381.8,656.1 L1384.3,656.1 L1386.8,656.1 L1389.3,656.0 L1391.7,656.0 L1394.2,655.9 L1396.7,655.8 L1399.2,655.8 L1401.7,655.7 L1404.1,655.6 L1406.6,655.4 L1409.1,655.3 L1411.6,655.2 L1414.1,655.0 L1416.5,654.8 L1419.0,654.6 L1421.5,654.4 L1424.0,654.2 L1426.4,653.9 L1428.9,653.6 L1431.3,653.3 L1433.8,652.9 L1436.2,652.5 L1438.6,652.1 L1441.0,651.6 L1443.4,651.0 L1445.8,650.4 L1448.1,649.7 L1450.4,649.0 L1452.7,648.2 L1455.0,647.3 L1457.2,646.4 L1459.4,645.4 L1461.6,644.4 L1463.7,643.3 L1465.8,642.1 L1467.9,640.9 L1470.0,639.6 L1472.0,638.2 L1473.9,636.8 L1475.8,635.4 L1477.7,633.8 L1479.5,632.3 L1481.4,630.6 L1483.1,628.9 L1484.8,627.2 L1486.5,625.5 L1488.2,623.7 L1489.9,621.8 L1491.5,620.0 L1493.1,618.1 L1494.6,616.2 L1496.2,614.2 L1497.7,612.3 L1499.2,610.3 L1500.7,608.3 L1502.2,606.3 L1503.7,604.3 L1505.1,602.2 L1506.6,600.2 L1508.0,598.2 L1509.4,596.1 L1510.9,594.1 L1512.3,592.0 L1513.8,590.0 L1515.2,587.9 L1516.6,585.9 L1518.1,583.9 L1519.5,581.8 L1521.0,579.8 L1522.4,577.8 L1523.9,575.8 L1525.3,573.8 L1526.8,571.8 L1528.3,569.8 L1529.7,567.8 L1531.2,565.8 L1532.7,563.8 L1534.2,561.8 L1535.7,559.8 L1537.2,557.9 L1538.7,555.9 L1540.2,553.9 L1541.7,552.0 L1543.2,550.1 L1544.8,548.1 L1546.3,546.2 L1547.8,544.3 L1549.4,542.4 L1550.9,540.5 L1552.5,538.6 L1554.1,536.7 L1555.7,534.8 L1557.3,533.0 L1558.9,531.1 L1560.5,529.3 L1562.1,527.4 L1563.8,525.6 L1565.4,523.8 L1567.1,522.0 L1568.7,520.2 L1570.4,518.4 L1572.1,516.6 L1573.8,514.8 L1575.5,513.1 L1577.2,511.3 L1579.0,509.6 L1580.7,507.9 L1582.5,506.1 L1584.3,504.5 L1586.1,502.8 L1587.9,501.1 L1589.7,499.4 L1591.5,497.8 L1593.4,496.1 L1595.2,494.5 L1597.1,492.9 L1599.0,491.3 L1600.9,489.7 L1602.9,488.2 L1604.8,486.6 L1606.8,485.1 L1608.7,483.6 L1610.7,482.0 L1612.7,480.5 L1614.8,479.1 L1616.8,477.6 L1618.9,476.2 L1621.0,474.7 L1623.1,473.4 L1625.2,472.0 L1627.3,470.6 L1629.4,469.3 L1631.6,468.0 L1633.7,466.8 L1635.9,465.6 L1638.1,464.4 L1640.3,463.2 L1642.5,462.1 L1644.8,461.0 L1647.0,460.0 L1649.3,459.0 L1651.5,458.0 L1653.8,457.1 L1656.1,456.3 L1658.4,455.5 L1660.7,454.7 L1663.0,454.0 L1665.3,453.4 L1667.7,452.8 L1670.0,452.2 L1672.4,451.8 L1674.7,451.4 L1677.1,451.0 L1679.5,450.7 L1681.8,450.5 L1684.2,450.3 L1686.6,450.2Z" stroke-dasharray="9.023 6.517"/>
</g>
<g fill="none" stroke-width="2">
<path d="M469,259 V354 M469,296 L706,298 L865,332" stroke="#4a6e9e"/>
<path d="M469,462 V557 M469,499 L560,499 L820,458" stroke="#257a25"/>
<path d="M469,665 V760 M469,702 L550,702 L783,538 M550,702 L843,760" stroke="#eec046"/>
<path d="M469,868 V963 M469,905 L570,905 L856,808 M570,905 L1145,874" stroke="#c46a6a"/>
</g>
<g font-family="Liberation Sans, sans-serif">
<text transform="translate(122.00,296.00) scale(0.9209,1)" font-size="54.80" font-weight="bold" fill="#3b64a0">Permissions</text>
<text transform="translate(182.00,368.00) scale(0.9393,1)" font-size="54.80" font-weight="bold" fill="#3b64a0">System</text>
<text transform="translate(284.00,533.00) scale(0.9142,1)" font-size="54.80" font-weight="bold" fill="#117f11">Users</text>
<text transform="translate(243.00,737.00) scale(0.9249,1)" font-size="54.80" font-weight="bold" fill="#f1b328">Groups</text>
<text transform="translate(146.00,903.00) scale(0.9030,1)" font-size="54.80" font-weight="bold" fill="#c0504d">Resources</text>
<text transform="translate(162.00,975.00) scale(0.8995,1)" font-size="54.80" font-weight="bold" fill="#c0504d">&amp; Access</text>
<text transform="translate(1106.60,306.10) scale(0.9735,1)" font-size="24.71" font-weight="normal" fill="#267819">Admins</text>
<text transform="translate(1081.20,371.00) scale(1.0350,1)" font-size="43.31" font-weight="normal" fill="#000000">Admin</text>
<text transform="translate(1070.40,409.10) scale(0.9868,1)" font-size="25.87" font-weight="normal" fill="#ad5b44">(Global – All)</text>
<text transform="translate(1427.00,338.00) scale(0.9692,1)" font-size="24.71" font-weight="normal" fill="#267819">Analysts</text>
<text transform="translate(1369.00,401.00) scale(0.9759,1)" font-size="43.31" font-weight="normal" fill="#000000">Read-Only</text>
<text transform="translate(1405.00,438.00) scale(0.9468,1)" font-size="25.87" font-weight="normal" fill="#ad5b44">(Global – R)</text>
<text transform="translate(819.00,436.00) scale(0.9970,1)" font-size="24.71" font-weight="normal" fill="#267819">Partner Co.</text>
<text transform="translate(854.00,468.00) scale(0.9678,1)" font-size="24.71" font-weight="normal" fill="#267819">Team</text>
<text transform="translate(769.00,518.50) scale(0.9943,1)" font-size="43.31" font-weight="normal" fill="#000000">Partner Co.</text>
<text transform="translate(795.00,556.80) scale(1.0343,1)" font-size="25.87" font-weight="normal" fill="#ad5b44">(Multiple – All)</text>
<text transform="translate(871.00,715.00) scale(0.9597,1)" font-size="24.71" font-weight="normal" fill="#267819">LocalNet Reps</text>
<text transform="translate(864.00,779.70) scale(0.9852,1)" font-size="43.31" font-weight="normal" fill="#000000">LocalNet</text>
<text transform="translate(865.10,817.50) scale(1.0338,1)" font-size="25.87" font-weight="normal" fill="#ad5b44">(Multiple – All)</text>
<text transform="translate(1634.00,543.40) scale(0.9905,1)" font-size="24.71" font-weight="normal" fill="#267819">Bob Smith</text>
<text transform="translate(1589.00,605.00) scale(1.0084,1)" font-size="43.31" font-weight="normal" fill="#000000">Customer1</text>
<text transform="translate(1602.00,643.00) scale(0.9862,1)" font-size="25.87" font-weight="normal" fill="#ad5b44">(Customer1– All)</text>
<text transform="translate(1467.00,750.00) scale(0.9268,1)" font-size="24.71" font-weight="normal" fill="#267819">Jane Doe</text>
<text transform="translate(1446.00,805.00) scale(0.9958,1)" font-size="43.31" font-weight="normal" fill="#000000">Google</text>
<text transform="translate(1440.00,843.00) scale(0.9730,1)" font-size="25.87" font-weight="normal" fill="#ad5b44">(Google – All)</text>
<text transform="translate(1199.00,780.50) scale(0.9910,1)" font-size="24.71" font-weight="normal" fill="#267819">A Team</text>
<text transform="translate(1128.00,841.00) scale(1.0169,1)" font-size="39.97" font-weight="normal" fill="#000000">IPAM Group</text>
<text transform="translate(1150.00,877.80) scale(0.9802,1)" font-size="25.87" font-weight="normal" fill="#ad5b44">(Global – IPAM)</text>
<text transform="translate(1204.50,491.80) scale(0.9905,1)" font-size="26.16" font-weight="normal" fill="#000000">Internal Global</text>
<text transform="translate(1248.00,524.00) scale(0.9562,1)" font-size="26.16" font-weight="normal" fill="#000000">Groups</text>
<text transform="translate(766.50,638.70) scale(0.9911,1)" font-size="26.16" font-weight="normal" fill="#000000">Partner</text>
<text transform="translate(768.00,671.50) scale(0.9562,1)" font-size="26.16" font-weight="normal" fill="#000000">Groups</text>
<text transform="translate(1283.90,685.50) scale(0.9931,1)" font-size="26.16" font-weight="normal" fill="#000000">Customer /</text>
<text transform="translate(1276.40,718.70) scale(0.9664,1)" font-size="26.16" font-weight="normal" fill="#000000">Dept Groups</text>
<text transform="translate(1101.50,610.80) scale(0.9191,1)" font-size="40.12" font-weight="bold" fill="#000000">Permissions System</text>
</g></svg>
</body></html>
